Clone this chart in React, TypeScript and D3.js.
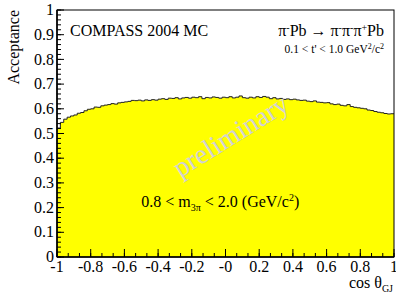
import { useMemo } from 'react';
import * as d3 from 'd3';

// acceptance per bin, cos(theta_GJ) from -1 to 1, 100 bins
const binEdgesLo = -1;
const binEdgesHi = 1;
const acceptance = [
  0.522, 0.545, 0.558, 0.566, 0.571, 0.575, 0.582, 0.585, 0.592, 0.598,
  0.600, 0.607, 0.606, 0.612, 0.615, 0.617, 0.621, 0.619, 0.624, 0.626,
  0.628, 0.630, 0.634, 0.633, 0.635, 0.632, 0.636, 0.634, 0.637, 0.635,
  0.639, 0.641, 0.638, 0.643, 0.642, 0.645, 0.640, 0.644, 0.646, 0.643,
  0.647, 0.645, 0.649, 0.641, 0.646, 0.644, 0.648, 0.646, 0.643, 0.647,
  0.645, 0.649, 0.644, 0.647, 0.652, 0.645, 0.643, 0.647, 0.644, 0.649,
  0.646, 0.650, 0.647, 0.641, 0.645, 0.640, 0.642, 0.638, 0.640, 0.637,
  0.639, 0.636, 0.634, 0.635, 0.631, 0.629, 0.632, 0.627, 0.626, 0.624,
  0.625, 0.620, 0.617, 0.619, 0.614, 0.612, 0.617, 0.609, 0.606, 0.604,
  0.602, 0.600, 0.595, 0.593, 0.589, 0.586, 0.584, 0.581, 0.579, 0.580,
];
const xTicks = [-1, -0.8, -0.6, -0.4, -0.2, 0, 0.2, 0.4, 0.6, 0.8, 1];
const xTickLabels = ['-1', '-0.8', '-0.6', '-0.4', '-0.2', '-0', '0.2', '0.4', '0.6', '0.8', '1'];
const yTicks = [0, 0.1, 0.2, 0.3, 0.4, 0.5, 0.6, 0.7, 0.8, 0.9, 1];

const W = 396;
const H = 296;
const margin = { top: 10, right: 2, bottom: 39, left: 57 };
const serif = "'Liberation Serif', 'DejaVu Serif', serif";

export default function App() {
  const innerW = W - margin.left - margin.right;
  const innerH = H - margin.top - margin.bottom;

  const x = d3.scaleLinear().domain([binEdgesLo, binEdgesHi]).range([0, innerW]);
  const y = d3.scaleLinear().domain([0, 1]).range([innerH, 0]);

  const binW = (binEdgesHi - binEdgesLo) / acceptance.length;

  const steps = useMemo(() => {
    const pts: [number, number][] = [];
    acceptance.forEach((v, i) => {
      const lo = binEdgesLo + i * binW;
      pts.push([lo, v], [lo + binW, v]);
    });
    return pts;
  }, [binW]);

  const line = d3.line<[number, number]>().x((d) => x(d[0])).y((d) => y(d[1]));
  const area = d3.area<[number, number]>().x((d) => x(d[0])).y0(y(0)).y1((d) => y(d[1]));

  const yMinor = d3.range(0, 1.0001, 0.02);
  const xMinor = d3.range(-1, 1.0001, 0.2 / 3);

  return (
    <svg width={W} height={H} style={{ position: 'absolute', left: 0, top: 0, background: '#fff', fontFamily: serif }}>
      <g transform={`translate(${margin.left},${margin.top})`}>
        <path d={area(steps)!} fill="#ffff00" />
        <path d={line(steps)!} fill="none" stroke="#222" strokeWidth={1} />

        {/* watermark */}
        <text
          transform={`translate(${x(0.06)},${y(0.46)}) rotate(-32)`}
          textAnchor="middle"
          fontSize={28}
          fill="#d2d2d2"
          style={{ fontFamily: serif }}
        >
          preliminary
        </text>

        {/* frame */}
        <rect x={0} y={0} width={innerW} height={innerH} fill="none" stroke="#000" strokeWidth={1} />
        <line x1={0} x2={0} y1={0} y2={innerH} stroke="#000" strokeWidth={1.6} />
        <line x1={0} x2={innerW} y1={innerH} y2={innerH} stroke="#000" strokeWidth={1.6} />

        {/* y ticks */}
        {yMinor.map((t, i) => (
          <line key={'ym' + i} x1={0} x2={4} y1={y(t)} y2={y(t)} stroke="#000" />
        ))}
        {yTicks.map((t) => (
          <g key={'y' + t}>
            <line x1={0} x2={7} y1={y(t)} y2={y(t)} stroke="#000" />
            <text x={-3} y={y(t)} dy="0.32em" textAnchor="end" fontSize={16} style={{ fontFamily: serif }}>
              {String(t)}
            </text>
          </g>
        ))}

        {/* x ticks */}
        {xMinor.map((t, i) => (
          <line key={'xm' + i} x1={x(t)} x2={x(t)} y1={innerH} y2={innerH - 4} stroke="#000" />
        ))}
        {xTicks.map((t, i) => (
          <g key={'x' + i}>
            <line x1={x(t)} x2={x(t)} y1={innerH} y2={innerH - 8} stroke="#000" />
            <text x={x(t)} y={innerH + 15} textAnchor="middle" fontSize={16} style={{ fontFamily: serif }}>
              {xTickLabels[i]}
            </text>
          </g>
        ))}

        {/* labels */}
        <text x={13} y={26} fontSize={16} style={{ fontFamily: serif }}>COMPASS 2004 MC</text>
        <text x={innerW - 10} y={26} fontSize={16} textAnchor="end" style={{ fontFamily: serif }}>
          π<tspan dy={-5} fontSize={10}>-</tspan><tspan dy={5}>Pb → π</tspan>
          <tspan dy={-5} fontSize={10}>-</tspan><tspan dy={5}>π</tspan>
          <tspan dy={-5} fontSize={10}>-</tspan><tspan dy={5}>π</tspan>
          <tspan dy={-5} fontSize={10}>+</tspan><tspan dy={5}>Pb</tspan>
        </text>
        <text x={innerW - 10} y={43} fontSize={11.5} textAnchor="end" style={{ fontFamily: serif }}>
          0.1 {'<'} t' {'<'} 1.0 GeV<tspan dy={-4} fontSize={8}>2</tspan><tspan dy={4}>/c</tspan>
          <tspan dy={-4} fontSize={8}>2</tspan>
        </text>
        <text x={x(-0.5)} y={197} fontSize={16} style={{ fontFamily: serif }}>
          0.8 {'<'} m<tspan dy={4} fontSize={10}>3π</tspan><tspan dy={-4}> {'<'} 2.0 (GeV/c</tspan>
          <tspan dy={-6} fontSize={10}>2</tspan><tspan dy={6}>)</tspan>
        </text>
      </g>

      <text transform={`translate(19,10) rotate(-90)`} textAnchor="end" fontSize={16} style={{ fontFamily: serif }}>Acceptance</text>
      <text x={W - 3} y={288} textAnchor="end" fontSize={16} style={{ fontFamily: serif }}>
        cos θ<tspan dy={4} fontSize={10}>GJ</tspan>
      </text>
    </svg>
  );
}
